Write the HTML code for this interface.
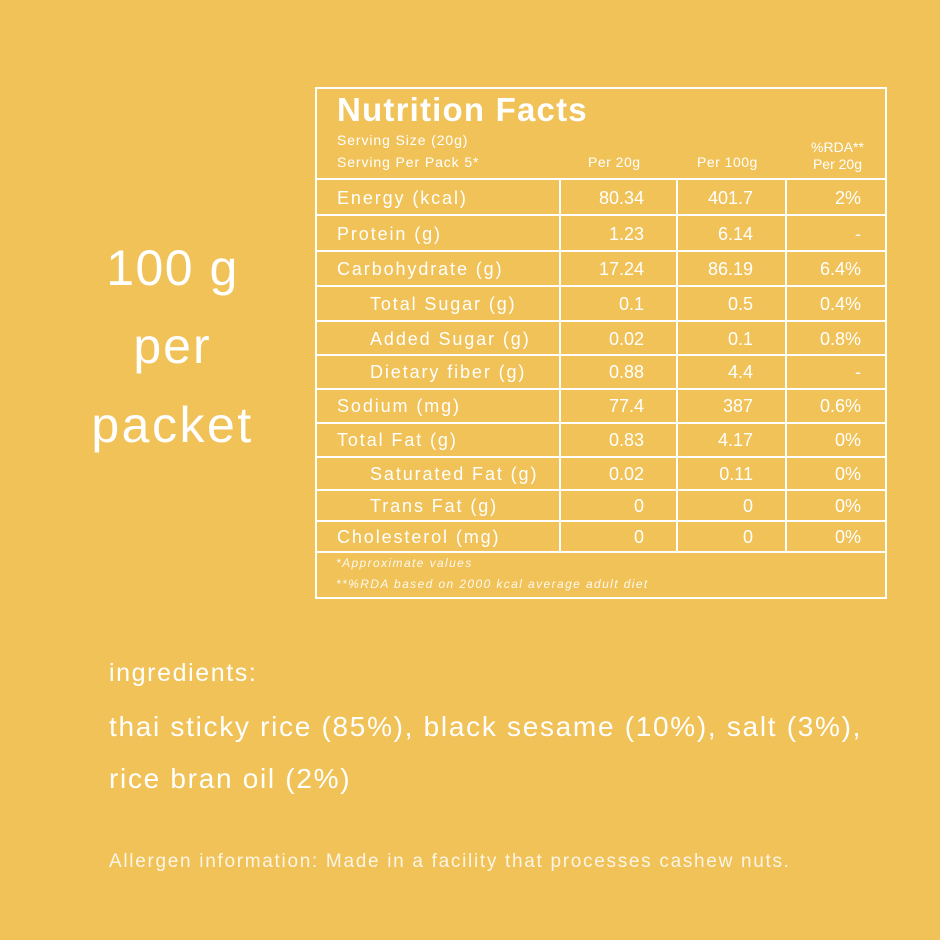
<!DOCTYPE html>
<html><head><meta charset="utf-8"><style>
body{margin:0;width:940px;height:940px;background:#F0C258;position:relative;overflow:hidden;font-family:"Liberation Sans",sans-serif;color:#fff}
.t{position:absolute;white-space:nowrap;line-height:1}
.h{position:absolute;background:#fff;height:2px;left:316px;width:570px}
.v{position:absolute;background:#fff;width:2px}
.r{position:absolute;left:316px;width:570px;font-size:18px}
.r span{position:absolute;top:0}
.a,.b{letter-spacing:1.9px}
.a{left:21px}.b{left:54px}
.c2{right:242px}.c3{right:133px}.c4{right:25px}
</style></head><body>
<div class="t" style="left:60px;width:225px;text-align:center;top:243px;font-size:50px;letter-spacing:1.5px">100 g</div>
<div class="t" style="left:60px;width:225px;text-align:center;top:321px;font-size:50px;letter-spacing:2px">per</div>
<div class="t" style="left:60px;width:225px;text-align:center;top:400px;font-size:50px;letter-spacing:2.5px">packet</div>

<div style="position:absolute;left:315px;top:87px;width:568px;height:508px;border:2px solid #fff"></div>
<div class="t" style="left:337px;top:93px;font-size:33px;font-weight:bold;letter-spacing:1.2px">Nutrition Facts</div>
<div class="t" style="left:337px;top:133px;font-size:14px;letter-spacing:0.9px">Serving Size (20g)</div>
<div class="t" style="left:337px;top:155px;font-size:14px;letter-spacing:0.9px">Serving Per Pack 5*</div>
<div class="t" style="left:588px;top:155px;font-size:14px;letter-spacing:0.5px">Per 20g</div>
<div class="t" style="left:697px;top:155px;font-size:14px;letter-spacing:0.5px">Per 100g</div>
<div class="t" style="left:800px;top:139px;width:75px;text-align:center;font-size:14px;line-height:17px">%RDA**<br>Per 20g</div>

<div class="h" style="top:178px"></div>
<div class="h" style="top:214px"></div>
<div class="h" style="top:250px"></div>
<div class="h" style="top:285px"></div>
<div class="h" style="top:320px"></div>
<div class="h" style="top:354px"></div>
<div class="h" style="top:388px"></div>
<div class="h" style="top:422px"></div>
<div class="h" style="top:456px"></div>
<div class="h" style="top:489px"></div>
<div class="h" style="top:520px"></div>
<div class="h" style="top:551px"></div>
<div class="v" style="left:559px;top:178px;height:374px"></div>
<div class="v" style="left:676px;top:178px;height:374px"></div>
<div class="v" style="left:785px;top:178px;height:374px"></div>

<div class="r" style="top:180px;height:34px;line-height:36px"><span class="a">Energy (kcal)</span><span class="c2">80.34</span><span class="c3">401.7</span><span class="c4">2%</span></div>
<div class="r" style="top:216px;height:34px;line-height:36px"><span class="a">Protein (g)</span><span class="c2">1.23</span><span class="c3">6.14</span><span class="c4">-</span></div>
<div class="r" style="top:252px;height:33px;line-height:34px"><span class="a">Carbohydrate (g)</span><span class="c2">17.24</span><span class="c3">86.19</span><span class="c4">6.4%</span></div>
<div class="r" style="top:287px;height:33px;line-height:34px"><span class="b">Total Sugar (g)</span><span class="c2">0.1</span><span class="c3">0.5</span><span class="c4">0.4%</span></div>
<div class="r" style="top:322px;height:32px;line-height:34px"><span class="b">Added Sugar (g)</span><span class="c2">0.02</span><span class="c3">0.1</span><span class="c4">0.8%</span></div>
<div class="r" style="top:356px;height:32px;line-height:32px"><span class="b">Dietary fiber (g)</span><span class="c2">0.88</span><span class="c3">4.4</span><span class="c4">-</span></div>
<div class="r" style="top:390px;height:32px;line-height:33px"><span class="a">Sodium (mg)</span><span class="c2">77.4</span><span class="c3">387</span><span class="c4">0.6%</span></div>
<div class="r" style="top:424px;height:32px;line-height:33px"><span class="a">Total Fat (g)</span><span class="c2">0.83</span><span class="c3">4.17</span><span class="c4">0%</span></div>
<div class="r" style="top:458px;height:31px;line-height:32px"><span class="b">Saturated Fat (g)</span><span class="c2">0.02</span><span class="c3">0.11</span><span class="c4">0%</span></div>
<div class="r" style="top:491px;height:29px;line-height:30px"><span class="b">Trans Fat (g)</span><span class="c2">0</span><span class="c3">0</span><span class="c4">0%</span></div>
<div class="r" style="top:522px;height:29px;line-height:30px"><span class="a">Cholesterol (mg)</span><span class="c2">0</span><span class="c3">0</span><span class="c4">0%</span></div>

<div class="t" style="left:336px;top:557px;font-size:12px;font-style:italic;opacity:.9;letter-spacing:1.4px">*Approximate values</div>
<div class="t" style="left:336px;top:578px;font-size:12px;font-style:italic;opacity:.9;letter-spacing:1.4px">**%RDA based on 2000 kcal average adult diet</div>

<div class="t" style="left:109px;top:661px;font-size:25px;letter-spacing:1.6px">ingredients:</div>
<div class="t" style="left:109px;top:713px;font-size:28px;letter-spacing:1.7px">thai sticky rice (85%), black sesame (10%), salt (3%),</div>
<div class="t" style="left:109px;top:765px;font-size:28px;letter-spacing:1.7px">rice bran oil (2%)</div>
<div class="t" style="left:109px;top:852px;font-size:19px;opacity:.85;letter-spacing:1.7px">Allergen information: Made in a facility that processes cashew nuts.</div>
</body></html>
